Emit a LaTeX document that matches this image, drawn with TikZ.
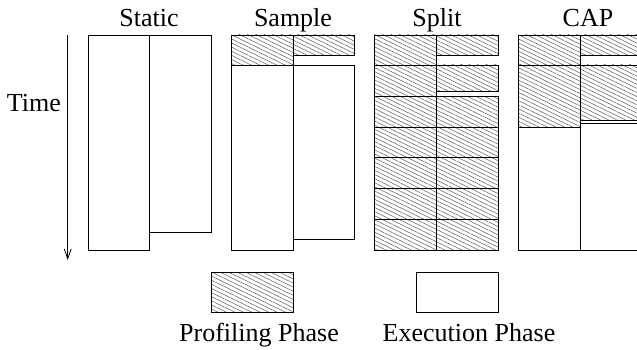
\documentclass[tikz,border=0pt]{standalone}
\usepackage{fontspec}
\setmainfont{Liberation Serif}
\usepackage{tikz}
\usetikzlibrary{arrows.meta,positioning,patterns.meta}

\tikzset{
  prof/.style={draw,line width=0.9pt,pattern={Lines[angle=-26,distance=3.7pt,line width=0.45pt]},pattern color=black!70},
  exec/.style={draw,line width=0.9pt,fill=white},
  lbl/.style={font=\fontsize{26}{30}\selectfont,inner sep=0pt,anchor=base}
}

\begin{document}
\begin{tikzpicture}[x=1pt,y=-1pt]
  \useasboundingbox (0,0) rectangle (637,350);
  \clip (0,0) rectangle (637,350);
  % time axis
  \coordinate (t0) at (67.7,35);
  \coordinate (t1) at (67.7,260);
  \draw[line width=0.8pt,-{Straight Barb[length=10pt,width=7pt]}] (t0) -- (t1);
  \node (time) [lbl,anchor=east] at (61,103) {Time};
  % column titles
  \node (static) [lbl] at (149,26.7) {Static};
  \node (sample) [lbl] at (293,26.7) {Sample};
  \node (split) [lbl] at (437,26.7) {Split};
  \node (cap) [lbl] at (588,26.7) {CAP};
  % static
  \draw[exec] (88,35) rectangle (149,250);
  \draw[exec] (149,35) rectangle (211,232);
  % sample
  \draw[prof] (231.7,35) rectangle (293,65);
  \draw[exec] (231.7,65) rectangle (293,250);
  \draw[prof] (293,35) rectangle (354.7,55);
  \draw[exec] (293,65.7) rectangle (354.7,239);
  % split
  \foreach \k in {0,...,6}
    \draw[prof] (374.3,{35+\k*30.71}) rectangle (436.7,{35+(\k+1)*30.71});
  \draw[prof] (436.7,35) rectangle (498.7,55);
  \draw[prof] (436.7,65) rectangle (498.7,91.7);
  \foreach \k in {2,...,6}
    \draw[prof] (436.7,{35+\k*30.71}) rectangle (498.7,{35+(\k+1)*30.71});
  % cap
  \draw[prof] (518.3,35) rectangle (580,65);
  \draw[prof] (518.3,65) rectangle (580,127.3);
  \draw[exec] (518.3,127.3) rectangle (580,250);
  \draw[prof] (580,35) rectangle (642,55);
  \draw[prof] (580,65) rectangle (642,120);
  \draw[exec] (580,123) rectangle (642,250);
  % legend
  \draw[prof] (211,272.7) rectangle (293.3,312.7);
  \draw[exec] (416,272.7) rectangle (498.3,312.7);
  \node (proflbl) [lbl] at (259,341.7) {Profiling Phase};
  \node (execlbl) [lbl] at (469,341.7) {Execution Phase};
\end{tikzpicture}
\end{document}
